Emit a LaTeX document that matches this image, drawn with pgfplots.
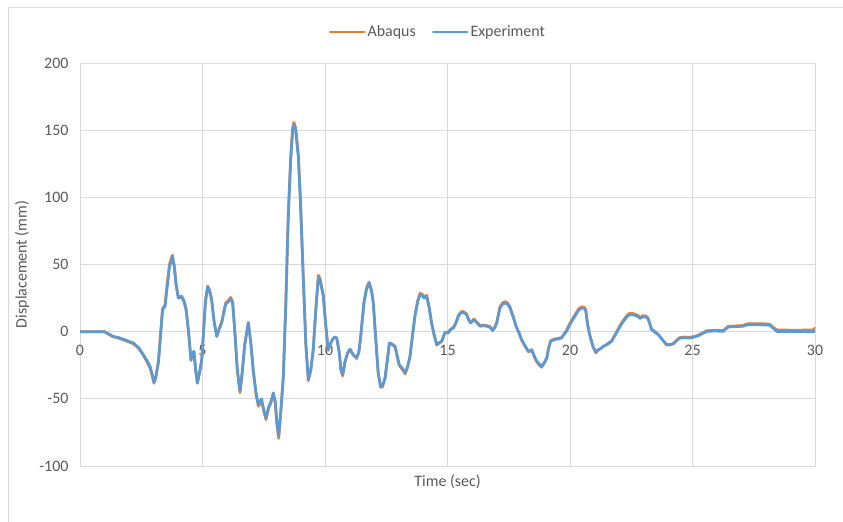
\documentclass[border=0pt]{standalone}
\usepackage{pgfplots}
\pgfplotsset{compat=1.18}
\usepackage{fontspec}
\setmainfont{Carlito}
\definecolor{abq}{HTML}{ED7D31}
\definecolor{expc}{HTML}{5B9BD5}
\definecolor{gridc}{HTML}{D9D9D9}
\definecolor{txt}{HTML}{595959}
\begin{document}
\begin{tikzpicture}
\useasboundingbox (0,0) rectangle (843bp,-522bp);
\draw[gridc, line width=1bp] (8.5bp,-540bp) -- (8.5bp,-7.5bp) -- (860bp,-7.5bp);
\begin{axis}[
  at={(80bp,-466bp)}, anchor=south west, scale only axis,
  width=735bp, height=403bp,
  xmin=0, xmax=30, ymin=-100, ymax=200,
  xtick={0,5,...,30}, ytick={-100,-50,...,200},
  grid=major, major grid style={gridc, line width=0.8bp},
  axis line style={gridc, line width=0.8bp},
  major tick length=0pt,
  /pgf/number format/assume math mode=true,
  tick label style={font=\fontsize{16}{19}\selectfont, text=txt},
  xticklabel style={yshift=124bp},
  yticklabel style={xshift=-8bp},
  xlabel={Time (sec)},
  xlabel style={at={(axis description cs:0.5,0)}, anchor=center, yshift=-16bp, font=\fontsize{16}{19}\selectfont, text=txt},
  ylabel={Displacement (mm)},
  ylabel style={at={(axis description cs:-0.0789,0.5)}, anchor=center, font=\fontsize{16}{19}\selectfont, text=txt},
  legend columns=2,
  legend style={at={(axis description cs:0.487,1)}, anchor=center, yshift=31bp, draw=none, fill=none, font=\fontsize{16}{19}\selectfont, text=txt, /tikz/every even column/.append style={column sep=14bp}},
  legend image code/.code={\draw[#1] (0bp,0bp) -- (34bp,0bp);},
  every axis plot/.append style={line width=2.7bp, line join=round, line cap=round},
]
\addplot[abq] coordinates {
(0,0) (1.0,0) (1.1,-1.2) (1.35,-3.8) (1.6,-5) (1.9,-7) (2.18,-9) (2.4,-12.5) (2.58,-17.5) (2.75,-23) (2.86,-27) (2.95,-33) (3.02,-38.5)
(3.1,-34) (3.2,-22) (3.28,-3) (3.37,17) (3.47,20) (3.55,34) (3.65,50) (3.77,57) (3.85,49) (3.92,36) (4.01,26) (4.15,26.5) (4.25,23)
(4.33,17) (4.43,0) (4.53,-21.5) (4.6,-16.5) (4.65,-15) (4.72,-29) (4.79,-38.5) (4.88,-31) (4.97,-21) (5.05,2) (5.12,23) (5.21,34)
(5.29,31) (5.37,24.5) (5.47,8) (5.58,-3.5) (5.68,2) (5.78,7) (5.87,15) (5.95,21.5) (6.05,23) (6.15,25.5) (6.23,22) (6.32,0)
(6.42,-29) (6.53,-45.5) (6.62,-31) (6.72,-10) (6.87,7) (6.97,-8) (7.07,-29) (7.18,-46) (7.28,-55.5) (7.41,-51.5) (7.5,-59) (7.59,-65.5)
(7.7,-57) (7.79,-53) (7.89,-46.5) (7.97,-53) (8.04,-70) (8.11,-79.5) (8.2,-59) (8.3,-33) (8.4,21) (8.5,87) (8.6,130) (8.68,152)
(8.73,155.8) (8.8,152) (8.91,133) (9.0,98) (9.12,38) (9.22,-10) (9.32,-36.5) (9.42,-29) (9.52,-13.5) (9.62,15.5) (9.73,42) (9.8,39.5)
(9.93,27.5) (10.03,5) (10.13,-14) (10.2,-10) (10.3,-6) (10.4,-4) (10.48,-5) (10.58,-15.5) (10.65,-28.5) (10.72,-33) (10.82,-22.5)
(10.92,-16) (11.02,-13) (11.15,-17.5) (11.29,-20) (11.38,-15.5) (11.45,-5) (11.59,22) (11.7,33) (11.8,37) (11.9,31) (11.97,22)
(12.07,-5) (12.17,-31) (12.27,-41.5) (12.35,-41) (12.45,-35) (12.55,-20.5) (12.63,-8.4) (12.75,-9.5) (12.86,-11.5) (12.95,-19)
(13.03,-25) (13.15,-28) (13.27,-31.5) (13.37,-26.5) (13.47,-18.5) (13.57,-3) (13.67,12) (13.78,23) (13.88,28.5) (13.96,28) (14.04,26)
(14.15,27) (14.25,18.5) (14.35,6.5) (14.45,-2) (14.56,-10) (14.66,-8.5) (14.76,-7.5) (14.9,-0.5) (15.03,-0.5) (15.13,2) (15.24,3.2)
(15.34,6.5) (15.44,12) (15.55,14.8) (15.65,15) (15.78,13.2) (15.88,8.5) (15.95,7) (16.08,9.5) (16.18,7.5) (16.33,4.5) (16.45,5)
(16.6,4.5) (16.72,4) (16.84,1.3) (16.93,3.5) (17.01,7) (17.14,18.5) (17.25,21.5) (17.35,22.3) (17.45,21.5) (17.55,18.5) (17.68,11.5)
(17.8,4) (17.92,-1) (18.03,-6.5) (18.15,-10.5) (18.3,-15) (18.44,-14) (18.54,-18.5) (18.64,-22.5) (18.75,-25) (18.84,-26.5) (18.95,-23.5)
(19.05,-20) (19.13,-12) (19.21,-6.8) (19.35,-5.5) (19.52,-5) (19.66,-4.3) (19.76,-1.5) (19.86,1) (19.96,5) (20.07,8.5) (20.15,11)
(20.24,13.5) (20.35,17) (20.48,18.5) (20.57,18.3) (20.64,16.5) (20.72,5.5) (20.82,-3.5) (20.94,-11.5) (21.06,-15.8) (21.14,-13.8)
(21.22,-13) (21.36,-11) (21.5,-9.5) (21.6,-8) (21.7,-6.8) (21.83,-2.5) (21.97,2.2) (22.08,5.8) (22.18,8.5) (22.3,11.5) (22.42,13.6)
(22.55,13.7) (22.65,13) (22.76,12.3) (22.86,10.5) (22.95,11.8) (23.06,11.8) (23.14,11.2) (23.2,9.5) (23.27,5.5) (23.33,2) (23.47,0)
(23.6,-2) (23.77,-6) (23.95,-10) (24.1,-9.8) (24.22,-9) (24.35,-6.5) (24.49,-4.3) (24.7,-4) (24.9,-4.2) (25.08,-3.5) (25.24,-2.5)
(25.4,-1) (25.58,0.7) (25.9,1) (26.26,0.8) (26.36,2.5) (26.46,4) (26.75,4.3) (27.07,4.6) (27.18,5.5) (27.28,6) (27.7,6) (28.0,5.8)
(28.16,5.4) (28.3,3.2) (28.44,1.3) (28.8,1.2) (29.2,1.1) (29.6,1.2) (29.93,1.4) (30,2.8)
};
\addlegendentry{Abaqus}
\addplot[expc] coordinates {
(0,0) (1.0,0) (1.1,-1) (1.35,-3.5) (1.6,-4.5) (1.9,-6.5) (2.18,-8.4) (2.4,-12) (2.58,-17) (2.75,-22) (2.86,-25.8) (2.95,-32) (3.02,-37.7)
(3.1,-33) (3.2,-23) (3.28,-5) (3.37,16.3) (3.47,18.8) (3.55,32) (3.65,48) (3.77,56) (3.85,48) (3.92,35) (4.01,25) (4.15,25.7) (4.25,22)
(4.33,16.3) (4.43,0) (4.53,-20.8) (4.6,-16) (4.65,-14.6) (4.72,-28) (4.79,-37.7) (4.88,-30) (4.97,-20.8) (5.05,2) (5.12,22) (5.21,33.2)
(5.29,30) (5.37,23.8) (5.47,8) (5.58,-3.5) (5.68,2) (5.78,6.5) (5.87,14) (5.95,20.8) (6.05,22) (6.15,25) (6.23,21.3) (6.32,0)
(6.42,-28) (6.53,-44.4) (6.62,-30) (6.72,-10) (6.87,6.5) (6.97,-8) (7.07,-28.2) (7.18,-45) (7.28,-54.2) (7.41,-50) (7.5,-58) (7.59,-64.2)
(7.7,-56) (7.79,-52) (7.89,-45.5) (7.97,-52) (8.04,-68) (8.11,-77.7) (8.2,-58) (8.3,-33) (8.4,20) (8.5,85.7) (8.6,128) (8.68,150)
(8.73,154.2) (8.8,150) (8.91,130) (9.0,95) (9.12,36) (9.22,-10) (9.32,-35.7) (9.42,-28) (9.52,-13.4) (9.62,15) (9.73,41.1) (9.8,38)
(9.93,26.2) (10.03,5) (10.13,-13.4) (10.2,-10) (10.3,-6) (10.4,-4) (10.48,-4.7) (10.58,-15) (10.65,-28) (10.72,-32) (10.82,-22)
(10.92,-16) (11.02,-13) (11.15,-17) (11.29,-19.5) (11.38,-15) (11.45,-5) (11.59,21.3) (11.7,32) (11.8,36.1) (11.9,30) (11.97,21.3)
(12.07,-5) (12.17,-30) (12.27,-40.6) (12.35,-40) (12.45,-34.4) (12.55,-20) (12.63,-8.4) (12.75,-9.5) (12.86,-10.9) (12.95,-18)
(13.03,-24.5) (13.15,-27) (13.27,-30.7) (13.37,-26) (13.47,-18.3) (13.57,-3) (13.67,11.4) (13.78,22) (13.88,27.5) (13.96,27) (14.04,25)
(14.15,26.2) (14.25,18) (14.35,6.5) (14.45,-2) (14.56,-9.7) (14.66,-8) (14.76,-7.2) (14.9,-0.5) (15.03,-1) (15.13,1.5) (15.24,2.7)
(15.34,6) (15.44,11.4) (15.55,14) (15.65,14.3) (15.78,12.6) (15.88,8) (15.95,6.5) (16.08,8.9) (16.18,7) (16.33,4) (16.45,4.5)
(16.6,4) (16.72,3.5) (16.84,0.8) (16.93,3) (17.01,6.5) (17.14,17.6) (17.25,20.5) (17.35,21.3) (17.45,20.5) (17.55,17.6) (17.68,11)
(17.8,4) (17.92,-1) (18.03,-6) (18.15,-10) (18.3,-14.6) (18.44,-13.4) (18.54,-18) (18.64,-22) (18.75,-24) (18.84,-25.8) (18.95,-23)
(19.05,-19.5) (19.13,-12) (19.21,-7.2) (19.35,-6) (19.52,-5.4) (19.66,-4.7) (19.76,-2) (19.86,0.2) (19.96,4) (20.07,7.7) (20.15,10)
(20.24,12.6) (20.35,16) (20.48,17.6) (20.57,17.5) (20.64,15.8) (20.72,5) (20.82,-3.5) (20.94,-11) (21.06,-15.4) (21.14,-13.5)
(21.22,-12.9) (21.36,-11) (21.5,-9.7) (21.6,-8.5) (21.7,-7.2) (21.83,-3) (21.97,1.5) (22.08,5) (22.18,7.7) (22.3,10.5) (22.42,12.6)
(22.55,12.7) (22.65,12.1) (22.76,11.5) (22.86,9.7) (22.95,11) (23.06,10.9) (23.14,10.5) (23.2,8.9) (23.27,5) (23.33,1.5) (23.47,-0.5)
(23.6,-2.2) (23.77,-6) (23.95,-9.7) (24.1,-9.5) (24.22,-8.9) (24.35,-6.5) (24.49,-4.7) (24.7,-4.5) (24.9,-4.7) (25.08,-4) (25.24,-3)
(25.4,-1.5) (25.58,0.2) (25.9,0.5) (26.26,0.2) (26.36,2) (26.46,3.5) (26.75,3.8) (27.07,4) (27.18,4.8) (27.28,5.2) (27.7,5.2) (28.0,5)
(28.16,4.7) (28.3,2.5) (28.44,0.2) (29.2,0.2) (29.93,0.2) (30,0.2)
};
\addlegendentry{Experiment}
\end{axis}
\end{tikzpicture}
\end{document}
